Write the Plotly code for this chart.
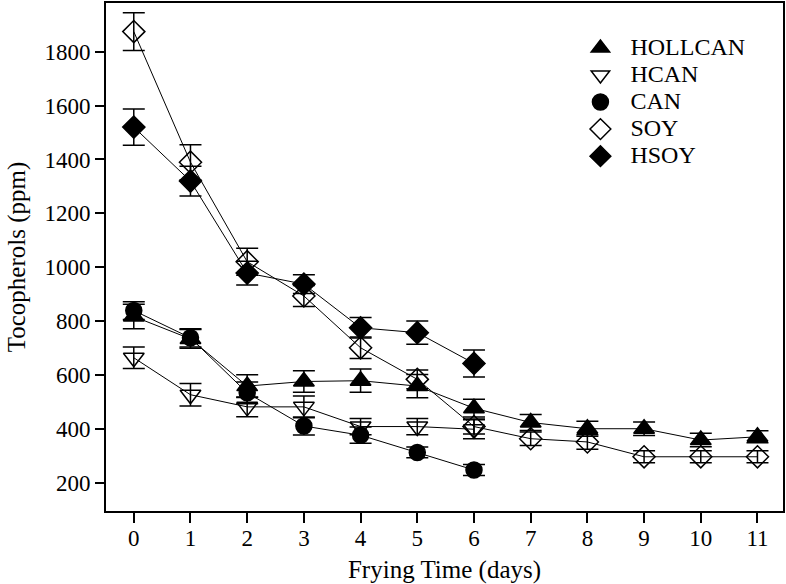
import plotly.graph_objects as go

days = list(range(12))
series_names = ["HOLLCAN", "HCAN", "CAN", "SOY", "HSOY"]

hollcan = [818, 735, 560, 577, 580, 560, 478, 425, 402, 402, 360, 372]
hollcan_err = [45, 35, 42, 40, 43, 43, 33, 30, 28, 25, 25, 22]
hcan = [665, 528, 483, 483, 410, 410, 400]
hcan_err = [40, 42, 37, 40, 30, 30, 35]
can = [840, 739, 535, 412, 378, 314, 249]
can_err = [33, 34, 40, 33, 30, 20, 20]
soy = [1874, 1390, 1021, 894, 702, 585, 410, 365, 353, 298, 298, 298]
soy_err = [70, 65, 50, 39, 40, 35, 28, 25, 27, 22, 22, 22]
hsoy = [1520, 1320, 979, 938, 776, 758, 644]
hsoy_err = [67, 55, 44, 35, 38, 43, 50]

y_ticks = [200, 400, 600, 800, 1000, 1200, 1400, 1600, 1800]

data = [hollcan, hcan, can, soy, hsoy]
errs = [hollcan_err, hcan_err, can_err, soy_err, hsoy_err]
symbols = ["triangle-up", "triangle-down-open", "circle", "diamond-open", "diamond"]
sizes = [18, 18, 16, 17, 17]

font_family = "Liberation Serif"

fig = go.Figure()
# connecting lines (under markers)
for name, vals in zip(series_names, data):
    fig.add_trace(go.Scatter(x=days[:len(vals)], y=vals, mode="lines",
                             line=dict(color="black", width=1),
                             showlegend=False, hoverinfo="skip"))
# markers with error bars
for name, vals, e, sym, sz in zip(series_names, data, errs, symbols, sizes):
    fig.add_trace(go.Scatter(
        x=days[:len(vals)], y=vals, mode="markers",
        name=f"<span style='font-size:24px'>{name}</span>",
        marker=dict(symbol=sym, size=sz, color="black",
                    line=dict(color="black", width=1.5)),
        error_y=dict(type="data", array=e, visible=True, color="black",
                     thickness=1.5, width=11),
    ))

fig.update_layout(
    width=786, height=584,
    margin=dict(l=106, r=3, t=3, b=73),
    paper_bgcolor="white", plot_bgcolor="white",
    font=dict(family=font_family, color="black", size=23),
    legend=dict(x=0.686, y=0.948, xanchor="left", yanchor="top",
                font=dict(size=18.5, family=font_family, color="black"),
                tracegroupgap=0, itemwidth=50, bgcolor="rgba(0,0,0,0)"),
    xaxis=dict(range=[-0.49, 11.45], tickmode="array", tickvals=days,
               ticks="outside", ticklen=10, tickwidth=1.5, tickcolor="black",
               showline=True, linecolor="black", linewidth=2, mirror=True,
               showgrid=False, zeroline=False, automargin=False,
               ticklabelstandoff=-5,
               title=dict(text="Frying Time (days)",
                          font=dict(size=25, family=font_family), standoff=12),
               tickfont=dict(size=23, family=font_family, color="black")),
    yaxis=dict(range=[97, 1980], tickmode="array", tickvals=y_ticks,
               ticks="outside", ticklen=9, tickwidth=1.5, tickcolor="black",
               showline=True, linecolor="black", linewidth=2, mirror=True,
               showgrid=False, zeroline=False, automargin=False,
               title=dict(text="Tocopherols (ppm)",
                          font=dict(size=25, family=font_family), standoff=12),
               tickfont=dict(size=23, family=font_family, color="black")),
)

fig.write_html("out.html", config={"displayModeBar": False},
               post_script="document.body.style.margin='0';")
